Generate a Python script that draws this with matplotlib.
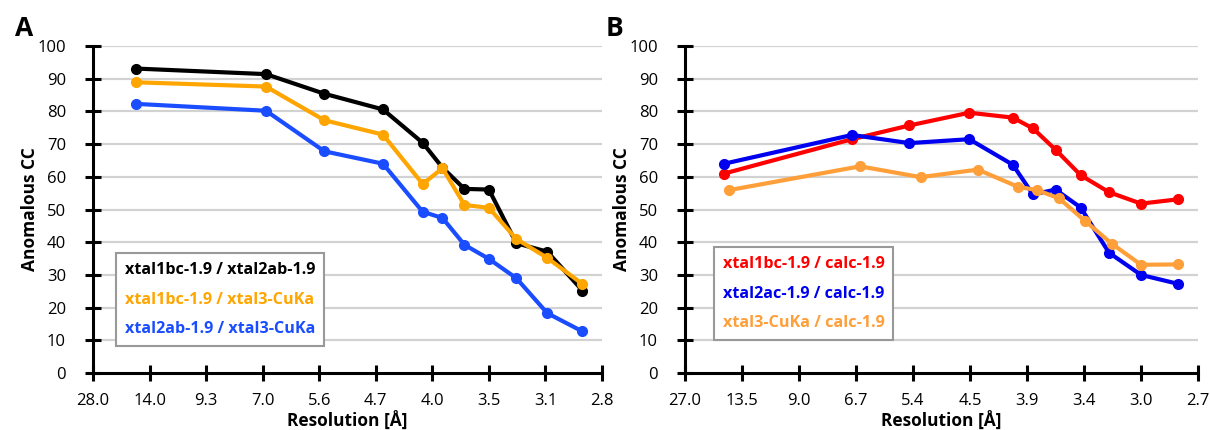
import matplotlib
matplotlib.use("Agg")
import matplotlib.pyplot as plt
from matplotlib.lines import Line2D
import numpy as np

plt.rcParams["font.family"] = ["Open Sans", "DejaVu Sans"]

# panel A: resolution of each shell [A] and anomalous CC [%]
res_a = [15.9, 6.9, 5.5, 4.57, 4.1, 3.9, 3.7, 3.5, 3.3, 3.1, 2.9]
cc_1bc_2ab = [93.1, 91.4, 85.4, 80.6, 70.4, 62.8, 56.3, 56.1, 39.7, 37.1, 25.2]
cc_1bc_3cu = [88.9, 87.6, 77.3, 72.9, 57.8, 62.6, 51.4, 50.5, 41.0, 35.2, 27.2]
cc_2ab_3cu = [82.3, 80.2, 67.8, 64.0, 49.3, 47.4, 39.2, 34.9, 29.0, 18.3, 12.7]
ticks_a = ["28.0", "14.0", "9.3", "7.0", "5.6", "4.7", "4.0", "3.5", "3.1", "2.8"]

# panel B
res_b = [16.0, 6.87, 5.47, 4.51, 4.0, 3.8, 3.6, 3.4, 3.2, 3.0, 2.8]
res_b_cu = [15.3, 6.63, 5.26, 4.40, 3.95, 3.76, 3.57, 3.37, 3.18, 3.0, 2.8]
cc_1bc_calc = [61.0, 71.5, 75.7, 79.6, 78.1, 74.8, 68.3, 60.5, 55.3, 51.8, 53.1]
cc_2ac_calc = [64.0, 72.8, 70.3, 71.5, 63.7, 54.6, 56.1, 50.6, 36.8, 30.0, 27.3]
cc_3cu_calc = [55.9, 63.2, 59.9, 62.2, 57.0, 55.9, 53.4, 46.6, 39.5, 33.1, 33.2]
ticks_b = ["27.0", "13.5", "9.0", "6.7", "5.4", "4.5", "3.9", "3.4", "3.0", "2.7"]

fig = plt.figure(figsize=(12.1, 4.3), dpi=100)
ax_a = fig.add_axes([93 / 1210, 1 - 373 / 430, 509 / 1210, 327 / 430])
ax_b = fig.add_axes([685 / 1210, 1 - 373 / 430, 513 / 1210, 327 / 430])


def style_axis(ax, dmax, labels):
    n = len(labels)
    pos = np.arange(1, n + 1) / dmax
    ax.set_xlim(pos[0], pos[-1])
    ax.set_ylim(0, 100)
    ax.set_xticks(pos)
    ax.set_xticklabels(labels)
    ax.set_yticks(np.arange(0, 101, 10))
    for side in ("top", "right"):
        ax.spines[side].set_visible(False)
    for side in ("left", "bottom"):
        ax.spines[side].set_linewidth(2.2)
        ax.spines[side].set_color("black")
    ax.tick_params(direction="inout", length=11, width=2.2, labelsize=12,
                   colors="black")
    ax.tick_params(axis="y", pad=14)
    ax.tick_params(axis="x", pad=9)
    for y in range(10, 101, 10):
        ax.axhline(y, color="#d2d2d2", lw=1.6, zorder=0)
    ax.set_ylabel("Anomalous CC", fontsize=12.5, fontweight="bold", labelpad=-1)
    ax.set_xlabel("Resolution [Å]", fontsize=12.5, fontweight="bold", labelpad=2)


def draw(ax, res, cc, color):
    x = 1 / np.asarray(res)
    ax.plot(x, cc, color=color, lw=3.0, marker="o", ms=7, clip_on=False, zorder=3)


style_axis(ax_a, 28.0, ticks_a)
draw(ax_a, res_a, cc_1bc_2ab, "black")
draw(ax_a, res_a, cc_1bc_3cu, "#ffa500")
draw(ax_a, res_a, cc_2ab_3cu, "#1a4dff")

style_axis(ax_b, 27.0, ticks_b)
draw(ax_b, res_b, cc_1bc_calc, "#ff0000")
draw(ax_b, res_b, cc_2ac_calc, "#0000f0")
draw(ax_b, res_b_cu, cc_3cu_calc, "#ff9f3a")


def add_legend(ax, labels, colors, anchor):
    handles = [Line2D([], [], linestyle="none", color=c) for c in colors]
    leg = ax.legend(handles, labels, loc="upper left", bbox_to_anchor=anchor,
                    handlelength=0, handletextpad=0, labelcolor="linecolor",
                    fancybox=False, framealpha=1, edgecolor="#999999",
                    borderpad=0.55, labelspacing=0.85, borderaxespad=0,
                    prop={"weight": "bold", "size": 11.6})
    leg.get_frame().set_linewidth(1.5)


add_legend(ax_a, ["xtal1bc-1.9 / xtal2ab-1.9", "xtal1bc-1.9 / xtal3-CuKa",
                  "xtal2ab-1.9 / xtal3-CuKa"],
           ["black", "#ffa500", "#1a4dff"], ((116 - 93) / 509, (373 - 253) / 327))
add_legend(ax_b, ["xtal1bc-1.9 / calc-1.9", "xtal2ac-1.9 / calc-1.9",
                  "xtal3-CuKa / calc-1.9"],
           ["#ff0000", "#0000f0", "#ff9f3a"], ((714 - 685) / 513, (373 - 247) / 327))

fig.text(24 / 1210, 1 - 29 / 430, "A", fontsize=19, fontweight="bold", ha="center", va="center")
fig.text(614 / 1210, 1 - 29 / 430, "B", fontsize=19, fontweight="bold", ha="center", va="center")

fig.savefig("out.png", dpi=100)
